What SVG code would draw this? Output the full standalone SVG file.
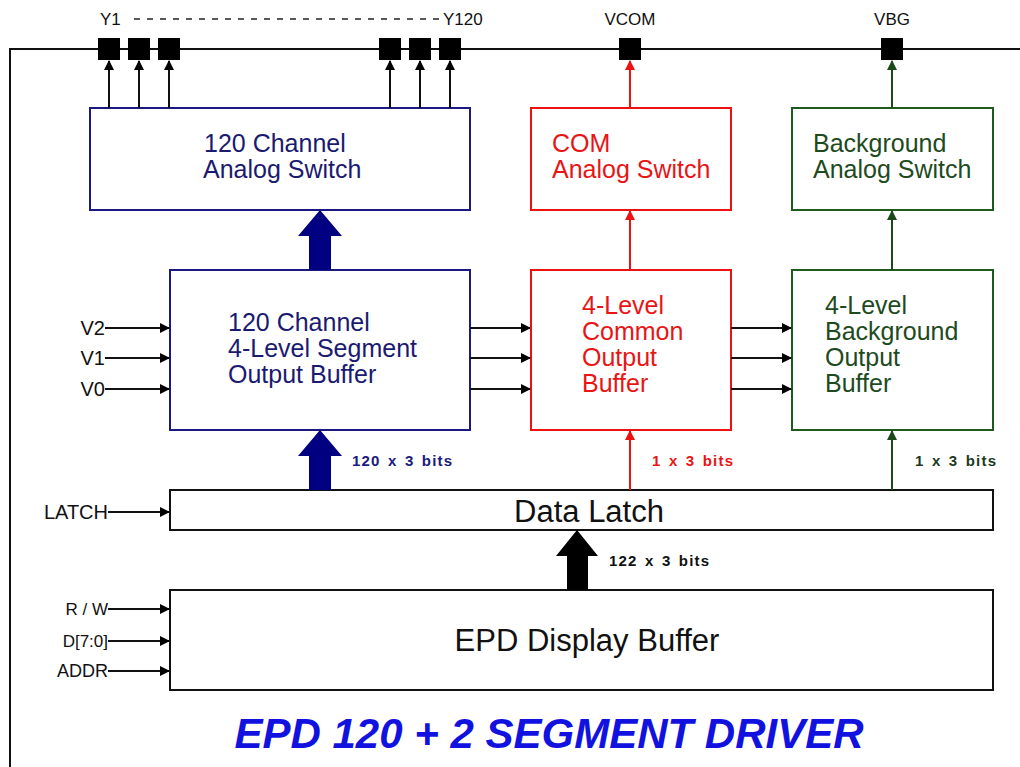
<svg xmlns="http://www.w3.org/2000/svg" width="1020" height="767" viewBox="0 0 1020 767">
<style>
text{font-family:"Liberation Sans",Arial,sans-serif}
.box{fill:#fff;stroke-width:2}
.navy{stroke:#1a1a80}
.red{stroke:#ee1111}
.grn{stroke:#1e5a1e}
.blk{stroke:#111}
.tn{fill:#1a1a70;font-size:25px}
.tr{fill:#e81515;font-size:25px}
.tg{fill:#1e4a1e;font-size:25px}
.tb{fill:#111;font-size:31px}
.lbl{fill:#111}
.bits{font-size:15px;font-weight:bold;letter-spacing:1.2px;word-spacing:2px}
.pin{fill:#000}
.ln{fill:none;stroke-width:2}
</style>
<defs>
<marker id="ab" markerWidth="10" markerHeight="10" refX="9" refY="5" orient="auto" markerUnits="userSpaceOnUse"><path d="M0,0 L10,5 L0,10 Z" fill="#000"/></marker>
<marker id="ar" markerWidth="10" markerHeight="10" refX="9" refY="5" orient="auto" markerUnits="userSpaceOnUse"><path d="M0,0 L10,5 L0,10 Z" fill="#ee1111"/></marker>
<marker id="ag" markerWidth="10" markerHeight="10" refX="9" refY="5" orient="auto" markerUnits="userSpaceOnUse"><path d="M0,0 L10,5 L0,10 Z" fill="#1a4a1a"/></marker>
</defs>

<g id="frame">
<path d="M10,767 V49 H1020" fill="none" stroke="#111" stroke-width="2"/>
</g>

<g id="pins">
<text x="100" y="25" class="lbl" font-size="17">Y1</text>
<line x1="134" y1="19" x2="440" y2="19" stroke="#222" stroke-width="1.5" stroke-dasharray="6,7"/>
<text x="443" y="25" class="lbl" font-size="17">Y120</text>
<text x="630" y="25" class="lbl" font-size="17" text-anchor="middle">VCOM</text>
<text x="892" y="25" class="lbl" font-size="17" text-anchor="middle">VBG</text>
<rect class="pin" x="98" y="38" width="22" height="22"/>
<rect class="pin" x="128" y="38" width="22" height="22"/>
<rect class="pin" x="158" y="38" width="22" height="22"/>
<rect class="pin" x="379" y="38" width="22" height="22"/>
<rect class="pin" x="409" y="38" width="22" height="22"/>
<rect class="pin" x="439" y="38" width="22" height="22"/>
<rect class="pin" x="619" y="38" width="22" height="22"/>
<rect class="pin" x="881" y="38" width="22" height="22"/>
</g>

<g id="analog120">
<rect class="box navy" x="90" y="108" width="380" height="102"/>
<text class="tn" x="204" y="152">120 Channel</text>
<text class="tn" x="203" y="178">Analog Switch</text>
</g>
<g id="comSwitch">
<rect class="box red" x="531" y="108" width="200" height="102"/>
<text class="tr" x="552" y="152">COM</text>
<text class="tr" x="552" y="178">Analog Switch</text>
</g>
<g id="bgSwitch">
<rect class="box grn" x="792" y="108" width="201" height="102"/>
<text class="tg" x="813" y="152">Background</text>
<text class="tg" x="813" y="178">Analog Switch</text>
</g>

<g id="segBuffer">
<rect class="box navy" x="170" y="270" width="300" height="160"/>
<text class="tn" x="228" y="331">120 Channel</text>
<text class="tn" x="228" y="357">4-Level Segment</text>
<text class="tn" x="228" y="383">Output Buffer</text>
</g>
<g id="comBuffer">
<rect class="box red" x="531" y="270" width="200" height="160"/>
<text class="tr" x="582" y="314">4-Level</text>
<text class="tr" x="582" y="340">Common</text>
<text class="tr" x="582" y="366">Output</text>
<text class="tr" x="582" y="392">Buffer</text>
</g>
<g id="bgBuffer">
<rect class="box grn" x="792" y="270" width="201" height="160"/>
<text class="tg" x="825" y="314">4-Level</text>
<text class="tg" x="825" y="340">Background</text>
<text class="tg" x="825" y="366">Output</text>
<text class="tg" x="825" y="392">Buffer</text>
</g>

<g id="dataLatch">
<rect class="box blk" x="170" y="490" width="823" height="40"/>
<text class="tb" x="589" y="522" text-anchor="middle">Data Latch</text>
</g>
<g id="displayBuffer">
<rect class="box blk" x="170" y="590" width="823" height="100"/>
<text class="tb" x="587" y="651" text-anchor="middle">EPD Display Buffer</text>
</g>

<g id="connectors">
<g stroke="#111" class="ln" marker-end="url(#ab)">
<line x1="109" y1="108" x2="109" y2="61"/>
<line x1="139" y1="108" x2="139" y2="61"/>
<line x1="169" y1="108" x2="169" y2="61"/>
<line x1="390" y1="108" x2="390" y2="61"/>
<line x1="420" y1="108" x2="420" y2="61"/>
<line x1="450" y1="108" x2="450" y2="61"/>
</g>
<line class="ln" stroke="#ee1111" x1="630" y1="108" x2="630" y2="61" marker-end="url(#ar)"/>
<line class="ln" stroke="#1a4a1a" x1="892" y1="108" x2="892" y2="61" marker-end="url(#ag)"/>
<line class="ln" stroke="#ee1111" x1="630" y1="270" x2="630" y2="211" marker-end="url(#ar)"/>
<line class="ln" stroke="#1a4a1a" x1="892" y1="270" x2="892" y2="211" marker-end="url(#ag)"/>
<line class="ln" stroke="#ee1111" x1="630" y1="490" x2="630" y2="431" marker-end="url(#ar)"/>
<line class="ln" stroke="#1a4a1a" x1="892" y1="490" x2="892" y2="431" marker-end="url(#ag)"/>
<path d="M309,270 V236 H298 L320,210 L342,236 H331 V270 Z" fill="#000080"/>
<path d="M309,490 V456 H298 L320,430 L342,456 H331 V490 Z" fill="#000080"/>
<path d="M567,590 V556 H556 L577,530 L598,556 H588 V590 Z" fill="#000"/>
<g stroke="#111" class="ln" marker-end="url(#ab)">
<line x1="105" y1="328" x2="169" y2="328"/>
<line x1="105" y1="358" x2="169" y2="358"/>
<line x1="105" y1="389" x2="169" y2="389"/>
<line x1="470" y1="328" x2="530" y2="328"/>
<line x1="470" y1="358" x2="530" y2="358"/>
<line x1="470" y1="389" x2="530" y2="389"/>
<line x1="731" y1="328" x2="791" y2="328"/>
<line x1="731" y1="358" x2="791" y2="358"/>
<line x1="731" y1="389" x2="791" y2="389"/>
<line x1="108" y1="512" x2="169" y2="512"/>
<line x1="108" y1="609" x2="169" y2="609"/>
<line x1="108" y1="641" x2="169" y2="641"/>
<line x1="108" y1="671" x2="169" y2="671"/>
</g>
</g>

<g id="labels">
<text class="lbl" x="105" y="335" text-anchor="end" font-size="20">V2</text>
<text class="lbl" x="105" y="365" text-anchor="end" font-size="20">V1</text>
<text class="lbl" x="105" y="396" text-anchor="end" font-size="20">V0</text>
<text class="lbl" x="108" y="519" text-anchor="end" font-size="20">LATCH</text>
<text class="lbl" x="108" y="615" text-anchor="end" font-size="17">R / W</text>
<text class="lbl" x="108" y="647" text-anchor="end" font-size="17">D[7:0]</text>
<text class="lbl" x="108" y="677" text-anchor="end" font-size="18">ADDR</text>
<text class="bits" x="352" y="466" fill="#1a1a80">120 x 3 bits</text>
<text class="bits" x="652" y="466" fill="#e81515">1 x 3 bits</text>
<text class="bits" x="915" y="466" fill="#1e3a1e">1 x 3 bits</text>
<text class="bits" x="609" y="566" fill="#111">122 x 3 bits</text>
</g>

<g id="title">
<text x="549" y="748" text-anchor="middle" font-size="42" font-weight="bold" font-style="italic" fill="#1212e0">EPD 120 + 2 SEGMENT DRIVER</text>
</g>
</svg>
